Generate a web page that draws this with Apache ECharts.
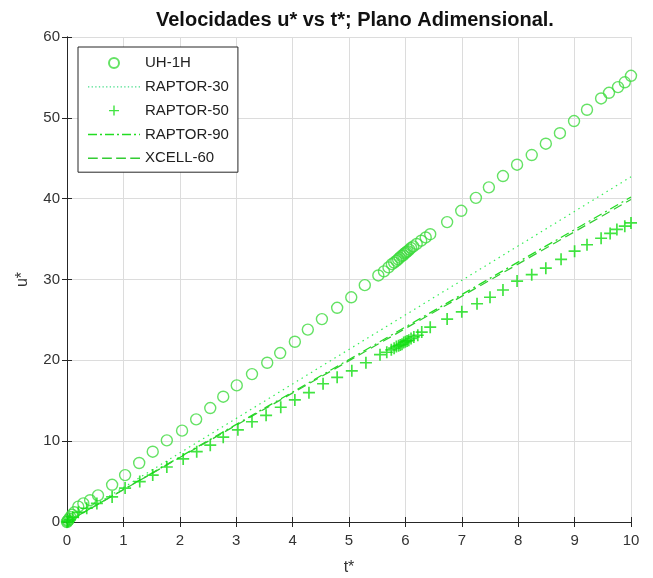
<!DOCTYPE html>
<html>
<head>
<meta charset="utf-8">
<script src="https://cdn.jsdelivr.net/npm/echarts@6/dist/echarts.min.js"></script>
<style>
html,body{margin:0;padding:0;background:#fff;}
#chart{width:653px;height:578px;}
</style>
</head>
<body>
<div id="chart"></div>
<script>
const titleText = 'Velocidades u* vs t*; Plano Adimensional.';
const xName = 't*';
const yName = 'u*';

const uh1hT = [0, 0.01, 0.02, 0.04, 0.06, 0.09, 0.13, 0.2, 0.29, 0.41, 0.55, 0.8, 1.03, 1.28, 1.52, 1.77, 2.04, 2.29, 2.54, 2.77, 3.01, 3.28, 3.55, 3.78, 4.04, 4.27, 4.52, 4.79, 5.04, 5.28, 5.52, 5.62, 5.7, 5.76, 5.8, 5.84, 5.87, 5.9, 5.93, 5.96, 5.98, 6.0, 6.02, 6.04, 6.07, 6.1, 6.14, 6.2, 6.28, 6.36, 6.44, 6.74, 6.99, 7.25, 7.48, 7.73, 7.98, 8.24, 8.49, 8.74, 8.99, 9.22, 9.47, 9.61, 9.77, 9.89, 10.0];
const uh1hU = [0, 0.1, 0.2, 0.4, 0.6, 0.9, 1.2, 1.9, 2.3, 2.7, 3.3, 4.6, 5.8, 7.3, 8.7, 10.1, 11.3, 12.7, 14.1, 15.5, 16.9, 18.3, 19.7, 20.9, 22.3, 23.8, 25.1, 26.5, 27.8, 29.3, 30.5, 31.0, 31.5, 31.9, 32.1, 32.3, 32.5, 32.7, 32.9, 33.0, 33.2, 33.3, 33.4, 33.5, 33.7, 33.9, 34.1, 34.4, 34.8, 35.2, 35.6, 37.1, 38.5, 40.1, 41.4, 42.8, 44.2, 45.4, 46.8, 48.1, 49.6, 51.0, 52.4, 53.1, 53.8, 54.4, 55.2];

const r50T = [0, 0.02, 0.05, 0.1, 0.2, 0.35, 0.53, 0.8, 1.03, 1.29, 1.52, 1.77, 2.06, 2.3, 2.54, 2.77, 3.03, 3.28, 3.53, 3.79, 4.04, 4.29, 4.54, 4.79, 5.05, 5.3, 5.55, 5.67, 5.75, 5.8, 5.84, 5.88, 5.91, 5.94, 5.97, 6.0, 6.03, 6.06, 6.1, 6.15, 6.22, 6.29, 6.44, 6.74, 7.0, 7.27, 7.5, 7.73, 7.98, 8.24, 8.49, 8.76, 9.0, 9.22, 9.47, 9.63, 9.75, 9.89, 10.0];
const r50U = [0, 0.1, 0.3, 0.6, 1.2, 1.7, 2.3, 3.1, 4.2, 5.0, 5.8, 6.8, 7.8, 8.7, 9.5, 10.5, 11.4, 12.4, 13.2, 14.2, 15.1, 16.0, 17.1, 17.9, 18.7, 19.7, 20.7, 21.0, 21.3, 21.5, 21.7, 21.8, 21.9, 22.0, 22.2, 22.3, 22.4, 22.5, 22.7, 22.9, 23.1, 23.5, 24.1, 25.1, 26.0, 27.0, 27.8, 28.7, 29.8, 30.6, 31.4, 32.5, 33.5, 34.3, 35.1, 35.7, 36.2, 36.6, 37.0];

const r30T = [0, 10];
const r30U = [0, 42.7];
const r90T = [0, 10];
const r90U = [0, 40.2];
const x60T = [0, 10];
const x60U = [0, 39.9];

const xTicks = [0, 1, 2, 3, 4, 5, 6, 7, 8, 9, 10];
const yTicks = [0, 10, 20, 30, 40, 50, 60];

function pairs(t, u) { return t.map((v, i) => [v, u[i]]); }

const FONT = 'Liberation Sans, Arial, Helvetica, sans-serif';
const plus = 'path://M4.3,0H5.7V4.3H10V5.7H5.7V10H4.3V5.7H0V4.3H4.3Z';

// legend line-style icons (pattern of small rectangles along a 52-wide strip)
function patternIcon(pattern, h) {
  let d = '', x = 0, on = true, i = 0;
  while (x < 52) {
    const len = pattern[i % pattern.length];
    if (on) { const w = Math.min(len, 52 - x); d += 'M' + x + ',0H' + (x + w) + 'V' + h + 'H' + x + 'Z'; }
    x += len; on = !on; i++;
  }
  return 'path://' + d;
}
const iconDotted = patternIcon([1.3, 2.3], 1.3);
const iconDashDot = patternIcon([9, 3, 2, 3], 1.5);
const iconDashed = patternIcon([9, 4], 1.5);

const chart = echarts.init(document.getElementById('chart'));
const axisCommon = {
  type: 'value',
  axisLine: { show: true, lineStyle: { color: '#262626', width: 1 } },
  axisTick: { show: true, inside: true, length: 5, lineStyle: { color: '#262626' } },
};
chart.setOption({
  animation: false,
  backgroundColor: '#ffffff',
  title: {
    text: titleText, left: 151, top: 5,
    textStyle: { fontFamily: FONT, fontSize: 20, fontWeight: 'bold', color: '#111' }
  },
  grid: { left: 67, right: 22, top: 37, bottom: 56, containLabel: false, outerBoundsMode: 'none' },
  legend: {
    orient: 'vertical', left: 78, top: 47,
    padding: [7, 9, 5, 10],
    itemWidth: 52, itemHeight: 10, itemGap: 5.8, itemTextGap: 8,
    backgroundColor: '#fff', borderColor: '#262626', borderWidth: 1,
    textStyle: { fontFamily: FONT, fontSize: 15, color: '#222', lineHeight: 18 },
    data: [
      { name: 'UH-1H' },
      { name: 'RAPTOR-30', icon: iconDotted },
      { name: 'RAPTOR-50' },
      { name: 'RAPTOR-90', icon: iconDashDot },
      { name: 'XCELL-60', icon: iconDashed }
    ]
  },
  xAxis: [
    Object.assign({}, axisCommon, {
      min: xTicks[0], max: xTicks[xTicks.length - 1], interval: 1, position: 'bottom',
      name: xName, nameLocation: 'middle', nameGap: 38,
      nameTextStyle: { fontFamily: FONT, fontSize: 16, color: '#333' },
      axisLabel: { fontFamily: FONT, fontSize: 15, color: '#333', margin: 11 },
      splitLine: { show: true, lineStyle: { color: '#dcdcdc', width: 1 } }
    }),
    Object.assign({}, axisCommon, {
      min: xTicks[0], max: xTicks[xTicks.length - 1], interval: 1, position: 'top',
      axisLabel: { show: false }, splitLine: { show: false }
    })
  ],
  yAxis: [
    Object.assign({}, axisCommon, {
      min: yTicks[0], max: yTicks[yTicks.length - 1], interval: 10, position: 'left',
      name: yName, nameLocation: 'middle', nameGap: 36, nameRotate: 90,
      nameTextStyle: { fontFamily: FONT, fontSize: 16, color: '#333' },
      axisLabel: { fontFamily: FONT, fontSize: 15, color: '#333', margin: 7 },
      splitLine: { show: true, lineStyle: { color: '#dcdcdc', width: 1 } }
    }),
    Object.assign({}, axisCommon, {
      min: yTicks[0], max: yTicks[yTicks.length - 1], interval: 10, position: 'right',
      axisLabel: { show: false }, splitLine: { show: false }
    })
  ],
  series: [
    {
      name: 'UH-1H', type: 'scatter', data: pairs(uh1hT, uh1hU),
      symbol: 'circle', symbolSize: 11,
      itemStyle: { color: 'rgba(0,0,0,0)', borderColor: '#3ddb3d', borderWidth: 1.4 },
      z: 3
    },
    {
      name: 'RAPTOR-30', type: 'line', data: pairs(r30T, r30U),
      showSymbol: false, symbol: 'none',
      lineStyle: { color: '#33ee55', width: 1.2, type: [1.5, 4] },
      itemStyle: { color: '#44dd88' }
    },
    {
      name: 'RAPTOR-50', type: 'scatter', data: pairs(r50T, r50U),
      symbol: plus, symbolSize: 12,
      itemStyle: { color: '#11dd11' },
      z: 3
    },
    {
      name: 'RAPTOR-90', type: 'line', data: pairs(r90T, r90U),
      showSymbol: false, symbol: 'none',
      lineStyle: { color: '#22dd22', width: 1.3, type: [9, 4, 2, 4] },
      itemStyle: { color: '#22dd22' }
    },
    {
      name: 'XCELL-60', type: 'line', data: pairs(x60T, x60U),
      showSymbol: false, symbol: 'none',
      lineStyle: { color: '#33cc33', width: 1.3, type: [9, 5] },
      itemStyle: { color: '#33cc33' }
    }
  ]
});
</script>
</body>
</html>
